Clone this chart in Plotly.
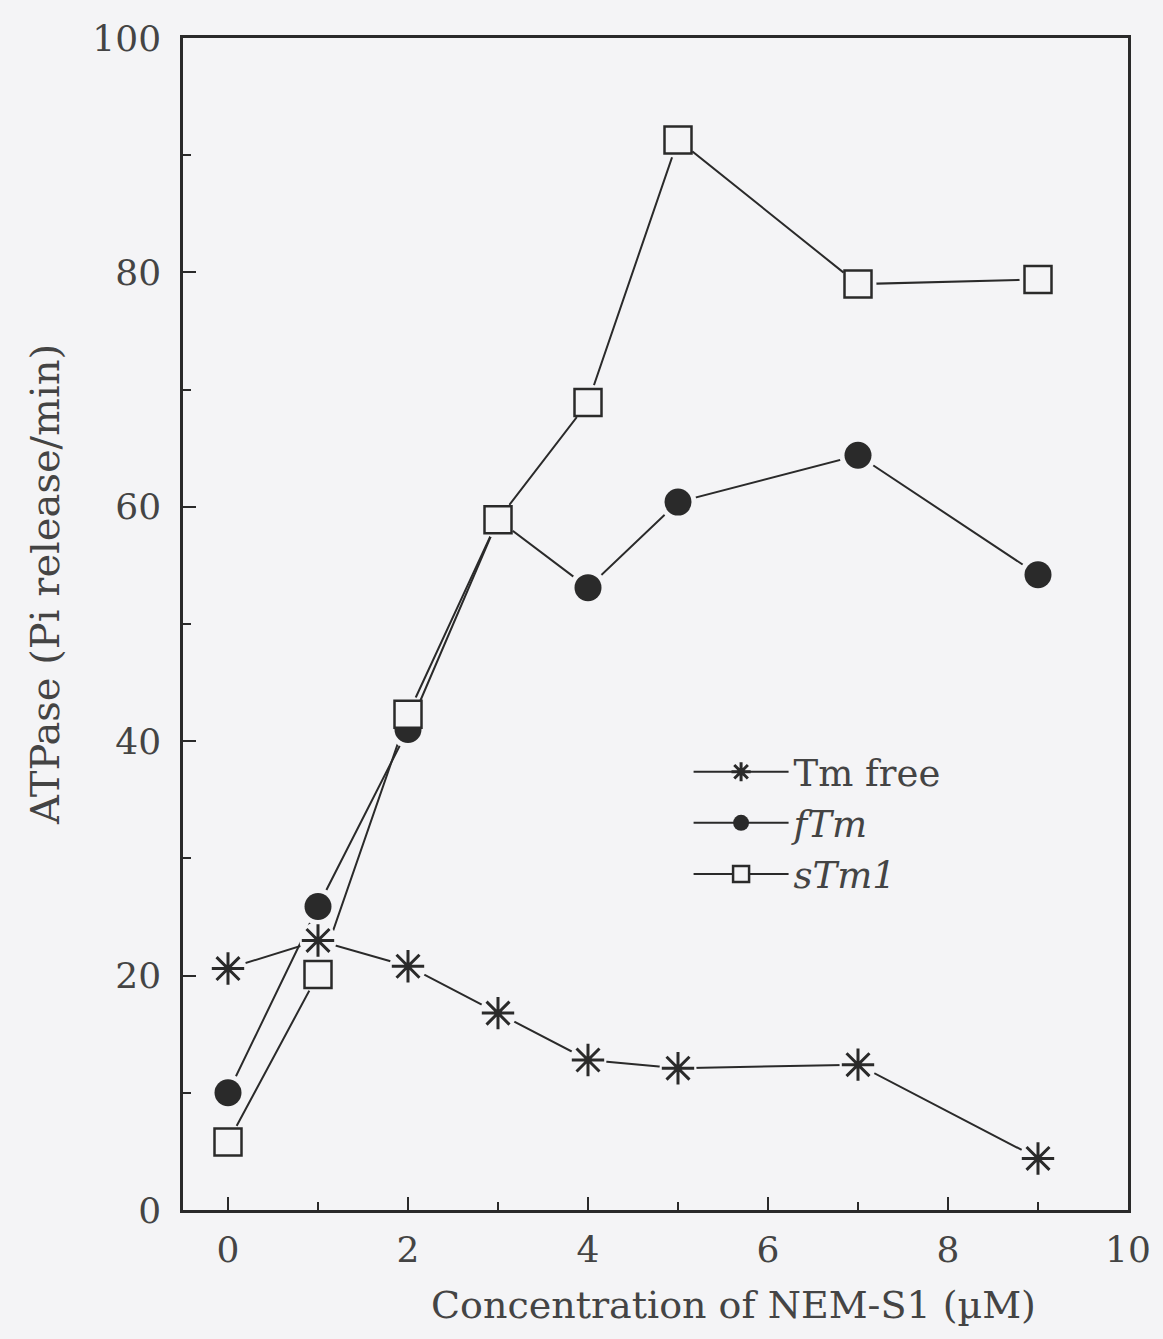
import plotly.graph_objects as go

conc = [0, 1, 2, 3, 4, 5, 7, 9]
tm_free = [20.6, 23.0, 20.8, 16.8, 12.8, 12.1, 12.4, 4.4]
ftm = [10.0, 25.9, 41.0, 58.9, 53.1, 60.4, 64.4, 54.2]
stm1 = [5.8, 20.1, 42.3, 58.9, 68.9, 91.3, 79.0, 79.4]

x_ticks = [0, 2, 4, 6, 8, 10]
y_ticks = [0, 20, 40, 60, 80, 100]

BG = "#f4f4f6"
INK = "#2a2a2a"
TXT = "#444444"
FONT = "DejaVu Serif"

series = [
    ("Tm free", tm_free, dict(symbol="asterisk-open", size=27, color=INK, line=dict(color=INK, width=3))),
    ("<i>fTm</i>", ftm, dict(symbol="circle", size=27, color=INK, line=dict(width=0))),
    ("<i>sTm1</i>", stm1, dict(symbol="square", size=27, color=BG, line=dict(color=INK, width=2.5))),
]

fig = go.Figure()
for name, ys, mk in series:
    fig.add_trace(go.Scatter(x=conc, y=ys, mode="lines", line=dict(color=INK, width=2),
                             showlegend=False, hoverinfo="skip"))
for name, ys, mk in series:
    fig.add_trace(go.Scatter(x=conc, y=ys, mode="markers",
                             marker=dict(symbol="circle", size=mk["size"] + 10, color=BG, line=dict(width=0)),
                             showlegend=False, hoverinfo="skip"))
for name, ys, mk in series:
    fig.add_trace(go.Scatter(x=conc, y=ys, mode="markers", marker=mk, showlegend=False))
for name, ys, mk in series:
    fig.add_trace(go.Scatter(x=[None], y=[None], mode="lines+markers", name=name,
                             line=dict(color=INK, width=2), marker=mk))

W, H = 1163, 1339
L, R, T, B = 183, 35, 38, 129
pw, ph = W - L - R, H - T - B


def px_x(v):
    return (v - L) / pw


def px_y(v):
    return (H - B - v) / ph


fig.update_layout(
    width=W, height=H,
    margin=dict(l=L, r=R, t=T, b=B),
    paper_bgcolor=BG, plot_bgcolor=BG,
    font=dict(family=FONT, size=36, color=TXT),
    showlegend=True,
    legend=dict(x=0.535, y=0.40, xanchor="left", yanchor="top",
                bgcolor="rgba(0,0,0,0)", font=dict(size=37, family=FONT, color=TXT),
                itemwidth=95, tracegroupgap=0),
    annotations=[
        dict(text="Concentration of NEM-S1 (µM)", x=px_x(733), y=px_y(1305), xref="paper", yref="paper",
             xanchor="center", yanchor="middle",
             showarrow=False, font=dict(size=38, family=FONT, color=TXT)),
        dict(text="ATPase (Pi release/min)", x=px_x(45), y=px_y(585), xref="paper", yref="paper",
             xanchor="center", yanchor="middle",
             showarrow=False, textangle=-90, font=dict(size=40, family=FONT, color=TXT)),
    ],
)

fig.update_xaxes(
    range=[-0.5, 10], tickvals=x_ticks, ticktext=[str(v) for v in x_ticks],
    ticks="inside", ticklen=13, tickwidth=2, tickcolor=INK,
    showline=True, linecolor=INK, linewidth=2.5, mirror=True,
    showgrid=False, zeroline=False,
    minor=dict(tickvals=[1, 3, 5, 7, 9], ticks="inside", ticklen=8, tickwidth=2, tickcolor=INK),
    ticklabelstandoff=6,
)
fig.update_yaxes(
    range=[0, 100], tickvals=y_ticks, ticktext=[str(v) for v in y_ticks],
    ticks="inside", ticklen=13, tickwidth=2, tickcolor=INK,
    showline=True, linecolor=INK, linewidth=2.5, mirror=True,
    showgrid=False, zeroline=False,
    minor=dict(tickvals=[10, 30, 50, 70, 90], ticks="inside", ticklen=8, tickwidth=2, tickcolor=INK),
    ticklabelstandoff=12,
)

fig.write_html("out.html")
